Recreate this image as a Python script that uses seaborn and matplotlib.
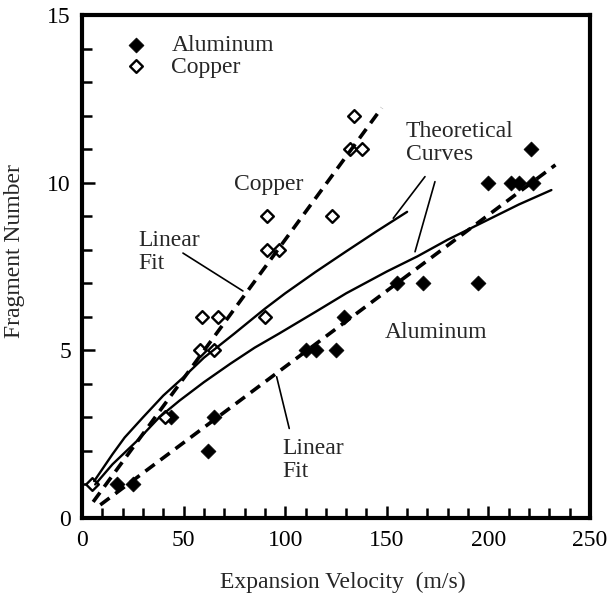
import matplotlib
matplotlib.use("Agg")
import matplotlib.pyplot as plt
import pandas as pd
import seaborn as sns
from matplotlib.ticker import MultipleLocator

# Measured fragment counts versus expansion velocity
al_velocity = [17, 25, 44, 62, 65, 110, 115, 125, 129, 155, 168, 195, 200, 211, 215, 222, 221]
al_fragments = [1, 1, 3, 2, 3, 5, 5, 5, 6, 7, 7, 7, 10, 10, 10, 10, 11]
cu_velocity = [5, 41, 58, 65, 59, 67, 90, 91, 91, 97, 123, 132, 138, 134]
cu_fragments = [1, 3, 5, 5, 6, 6, 6, 9, 8, 8, 9, 11, 11, 12]

# Linear fits (end points of each fitted line)
al_fit_velocity = [9, 233]
al_fit_fragments = [0.39, 10.53]
cu_fit_velocity = [5.5, 147.5]
cu_fit_fragments = [0.48, 12.23]

# Theoretical curves
cu_theory_velocity = [6, 15, 21, 30, 40, 50, 60, 75, 90, 100, 115, 130, 145, 160]
cu_theory_fragments = [1.1, 1.9, 2.4, 3.0, 3.65, 4.2, 4.78, 5.5, 6.24, 6.7, 7.34, 7.95, 8.55, 9.13]
al_theory_velocity = [6.5, 15, 27.6, 38, 48, 60, 73, 85, 97, 115, 130, 150, 165, 180, 200, 215, 231]
al_theory_fragments = [1.0, 1.6, 2.33, 3.0, 3.5, 4.05, 4.6, 5.08, 5.5, 6.15, 6.7, 7.35, 7.8,
                       8.3, 8.9, 9.35, 9.78]

x_ticks = [0, 50, 100, 150, 200, 250]
y_ticks = [0, 5, 10, 15]

sns.set_theme(style="ticks")
plt.rcParams["font.family"] = ["Liberation Serif", "DejaVu Serif"]
FS = 17

al_df = pd.DataFrame({"v": al_velocity, "n": al_fragments})
cu_df = pd.DataFrame({"v": cu_velocity, "n": cu_fragments})

fig = plt.figure(figsize=(6.09, 5.98), dpi=100)
ax = fig.add_axes([0.1346, 0.1338, 0.8342, 0.8411])

sns.scatterplot(data=al_df, x="v", y="n", ax=ax, marker="D", s=58,
                color="black", edgecolor="black", linewidth=0.5,
                label="Aluminum", zorder=2)
sns.scatterplot(data=cu_df, x="v", y="n", ax=ax, marker="D", s=42,
                facecolor="white", edgecolor="black", linewidth=1.7,
                label="Copper", zorder=2)

dash = (3.2, 2.0)
sns.lineplot(x=al_fit_velocity, y=al_fit_fragments, ax=ax, color="black",
             lw=2.6, zorder=3, legend=False).lines[-1].set_dashes(dash)
sns.lineplot(x=cu_fit_velocity, y=cu_fit_fragments, ax=ax, color="black",
             lw=2.6, zorder=3, legend=False).lines[-1].set_dashes(dash)
sns.lineplot(x=cu_theory_velocity, y=cu_theory_fragments, ax=ax, color="black",
             lw=1.7, zorder=3, legend=False, sort=False)
sns.lineplot(x=al_theory_velocity, y=al_theory_fragments, ax=ax, color="black",
             lw=1.7, zorder=3, legend=False, sort=False)

# Annotations
ax.text(92, 9.96, "Copper", fontsize=FS, ha="center", va="center")
ax.text(174.2, 5.52, "Aluminum", fontsize=FS, ha="center", va="center")
ax.text(27.6, 7.93, "Linear\nFit", fontsize=FS, ha="left", va="center", linespacing=1.15)
ax.text(98.4, 1.73, "Linear\nFit", fontsize=FS, ha="left", va="center", linespacing=1.15)
ax.text(159.4, 11.18, "Theoretical\nCurves", fontsize=FS, ha="left", va="center",
        linespacing=1.15)

leader = dict(arrowstyle="-", lw=1.2, color="black", shrinkA=0, shrinkB=0)
ax.annotate("", xy=(79.2, 6.77), xytext=(49.7, 7.90), arrowprops=leader)
ax.annotate("", xy=(102.0, 2.67), xytext=(95.8, 4.21), arrowprops=leader)
ax.annotate("", xy=(153.2, 8.94), xytext=(168.8, 10.18), arrowprops=leader)
ax.annotate("", xy=(163.9, 7.94), xytext=(173.7, 10.03), arrowprops=leader)

ax.set_xlim(0, 250)
ax.set_ylim(0, 15)
ax.set_xticks(x_ticks)
ax.set_yticks(y_ticks)
ax.set_xticklabels([str(t) for t in x_ticks])
ax.set_yticklabels([str(t) for t in y_ticks])
ax.xaxis.set_minor_locator(MultipleLocator(10))
ax.yaxis.set_minor_locator(MultipleLocator(1))
ax.tick_params(axis="both", which="both", direction="in", colors="black",
               labelsize=FS, top=False, right=False)
ax.tick_params(axis="both", which="major", length=9, width=1.8)
ax.tick_params(axis="both", which="minor", length=7, width=1.8)
ax.tick_params(axis="x", which="major", pad=9)
ax.tick_params(axis="y", which="major", pad=8)

for side in ["left", "right", "top", "bottom"]:
    ax.spines[side].set_visible(True)
    ax.spines[side].set_linewidth(3.0)
    ax.spines[side].set_color("black")

ax.set_xlabel("Expansion Velocity  (m/s)", fontsize=FS)
ax.set_ylabel("Fragment Number", fontsize=FS)
ax.xaxis.set_label_coords(0.514, -0.108)
ax.yaxis.set_label_coords(-0.113, 0.531)
ax.grid(False)

ax.legend(loc="upper left", bbox_to_anchor=(0.083, 0.961), frameon=False,
          fontsize=FS, handlelength=1.0, handletextpad=1.0, labelspacing=0.0,
          borderpad=0, borderaxespad=0)

fig.savefig("out.png", dpi=100)
